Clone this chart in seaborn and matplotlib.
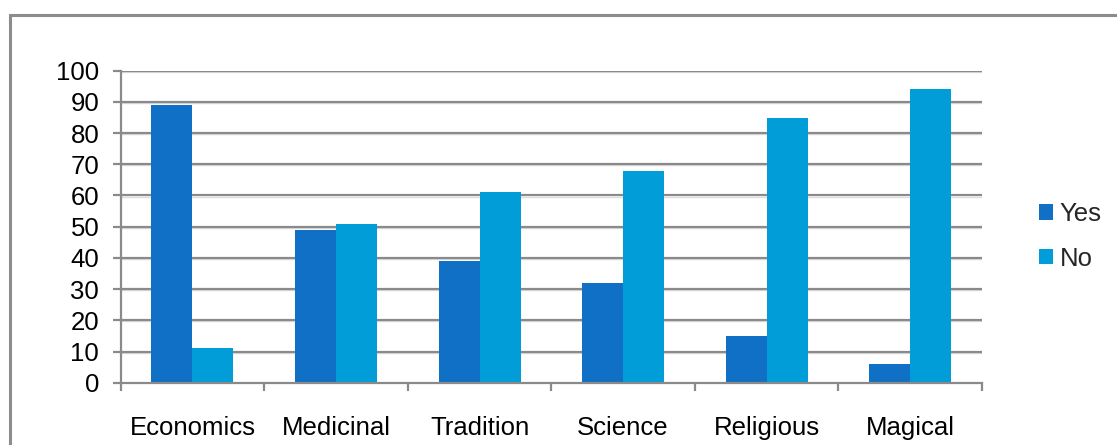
import matplotlib
matplotlib.use("Agg")
import matplotlib.pyplot as plt
from matplotlib.patches import Rectangle, Patch
from matplotlib.ticker import FixedLocator
import seaborn as sns
import pandas as pd

categories = ["Economics", "Medicinal", "Tradition", "Science", "Religious", "Magical"]
yes_values = [89, 49, 39, 32, 15, 6]
no_values = [11, 51, 61, 68, 85, 94]
series_names = ["Yes", "No"]
y_ticks = list(range(0, 101, 10))

df = pd.DataFrame({
    "category": categories * 2,
    "value": yes_values + no_values,
    "answer": [series_names[0]] * len(categories) + [series_names[1]] * len(categories),
})

colors = {"Yes": "#1070C5", "No": "#009DD8"}
grid_gray = "#8a8a8a"
font_size = 18.5

sns.set_theme(style="white")
plt.rcParams["font.family"] = ["Liberation Sans", "DejaVu Sans"]

W, H = 1117, 445
fig = plt.figure(figsize=(W / 100, H / 100), dpi=100)
ax = fig.add_axes([120.7 / W, 1 - 382.7 / H, (982 - 120.7) / W, (382.7 - 70.7) / H])

# outer chart frame
fig.patches.append(Rectangle((10 / W, -0.1), 1.2, 1 - 15 / H + 0.1, transform=fig.transFigure,
                             fill=False, edgecolor="#8c8c8c", linewidth=2.2, zorder=0))

sns.barplot(data=df, x="category", y="value", hue="answer", order=categories,
            hue_order=series_names, palette=colors, width=2 / 3.5, saturation=1,
            linewidth=0, ax=ax, legend=False, zorder=3)

ax.set_xlim(-0.5, len(categories) - 0.5)
ax.set_ylim(0, 100)
ax.set_yticks(y_ticks)
ax.set_yticklabels([str(t) for t in y_ticks])
ax.set_xlabel("")
ax.set_ylabel("")

# horizontal gridlines
for t in y_ticks[1:]:
    ax.axhline(t, color=grid_gray, linewidth=1.6, zorder=1)
    ax.axhline(t - 0.35, color="#dcdcdc", linewidth=1.0, zorder=0.9)

for side in ["top", "right"]:
    ax.spines[side].set_visible(False)
for side in ["left", "bottom"]:
    ax.spines[side].set_color(grid_gray)
    ax.spines[side].set_linewidth(1.6)
    ax.spines[side].set_zorder(4)

ax.tick_params(axis="y", which="major", direction="out", length=5.5, width=1.6,
               color=grid_gray, labelsize=font_size, pad=10, labelcolor="black", left=True)
ax.tick_params(axis="x", which="major", length=0, labelsize=font_size, pad=24, labelcolor="black")
ax.xaxis.set_minor_locator(FixedLocator([i - 0.5 for i in range(len(categories) + 1)]))
ax.tick_params(axis="x", which="minor", direction="out", length=5.5, width=1.6,
               color=grid_gray, bottom=True)

handles = [Patch(facecolor=colors[s], edgecolor="none", label=s) for s in series_names]
fig.legend(handles=handles, loc="upper left", bbox_to_anchor=(1039 / W, 1 - 202 / H),
           frameon=False, fontsize=font_size, handlelength=0.55, handleheight=0.55,
           handletextpad=0.25, labelspacing=0.8, borderaxespad=0, borderpad=0)

fig.savefig("out.png", dpi=100, facecolor="white")
